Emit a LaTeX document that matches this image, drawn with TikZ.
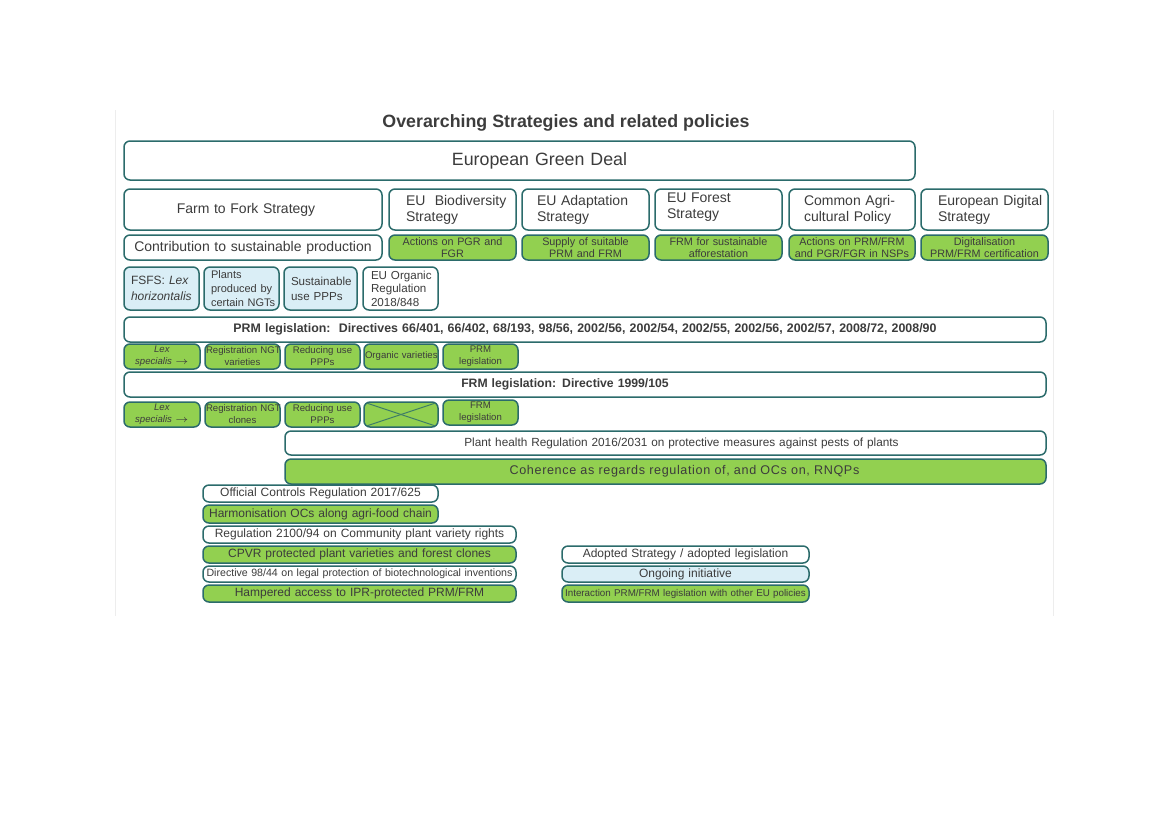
\documentclass[tikz,border=0pt]{standalone}
\usepackage{fontspec}
\setmainfont{Liberation Sans}
\definecolor{bord}{HTML}{2B6B6B}
\definecolor{grn}{HTML}{92D050}
\definecolor{lblue}{HTML}{DAEEF6}
\definecolor{txt}{HTML}{3C3C3C}
\definecolor{frame}{HTML}{EDEDED}
\newcommand{\fsz}[2]{\fontsize{#1}{#2}\selectfont}
% name, style, x1, y1, x2, y2, pad, text
\newcommand{\bx}[8]{%
  \pgfmathsetmacro{\bxcx}{(#3+#5)/2}%
  \pgfmathsetmacro{\bxcy}{(#4+#6)/2}%
  \pgfmathsetmacro{\bxw}{(#5-#3)*0.5}%
  \pgfmathsetmacro{\bxh}{(#6-#4)*0.5}%
  \pgfmathsetmacro{\bxtw}{(#5-#3)*0.5-2*#7}%
  \node[#2, minimum width=\bxw pt, minimum height=\bxh pt, text width=\bxtw pt, inner xsep=#7pt] (#1) at (\bxcx,\bxcy) {#8};}
\begin{document}
\begin{tikzpicture}[x=0.5pt,y=-0.5pt,
  box/.style={draw=bord, line width=0.75pt, rounded corners=3pt, inner ysep=0pt, align=center, text=txt, font=\fsz{6}{7}},
  wbox/.style={box, fill=white},
  gbox/.style={box, fill=grn},
  bbox/.style={box, fill=lblue},
  strat/.style={wbox, align=left, font=\fsz{7}{8}},
  small/.style={gbox, font=\fsz{5.4}{6}},
  tiny/.style={gbox, font=\fsz{4.8}{6}},
  crossline/.style={draw=bord!80!grn, line width=0.5pt}]
\useasboundingbox (0,0) rectangle (1169,827);
\draw[frame, line width=0.5pt] (115.5,110) -- (115.5,616);
\draw[frame, line width=0.5pt] (1053,110) -- (1053,616);

\node[text=txt, font=\bfseries\fsz{8.9}{10}] (title) at (566,123) {Overarching Strategies and related policies};

\bx{egd}{wbox, font=\fsz{8.9}{10}}{124}{141}{915}{180}{2}{\hspace*{20pt}European Green Deal}

\bx{f2f}{wbox, font=\fsz{7}{8}}{124}{189}{382}{230}{2}{Farm to Fork Strategy\hspace*{7pt}}
\bx{bio}{strat}{389}{189}{516}{230}{8.5}{\mbox{EU\ \ Biodiversity}\\\mbox{Strategy}}
\bx{adapt}{strat}{522}{189}{649}{230}{7.5}{\mbox{EU Adaptation}\\\mbox{Strategy}}
\bx{forest}{strat}{655}{189}{782}{230}{6}{\mbox{EU Forest}\\\mbox{Strategy}\vspace{2pt}}
\bx{cap}{strat}{789}{189}{915}{230}{7.5}{\mbox{Common Agri-}\\\mbox{cultural Policy}}
\bx{digital}{strat}{921}{189}{1048}{230}{8.5}{\mbox{European Digital}\\\mbox{Strategy}}

\bx{contrib}{wbox, font=\fsz{7}{8}}{124}{235}{382}{260}{1}{Contribution to sustainable production}
\bx{pgr}{small}{389}{235}{516}{260}{1}{Actions on PGR and\\FGR}
\bx{supply}{small}{522}{235}{649}{260}{1}{Supply of suitable\\PRM and FRM}
\bx{afforest}{small}{655}{235}{782}{260}{1}{FRM for sustainable\\afforestation}
\bx{nsp}{small}{789}{235}{915}{260}{1}{\mbox{Actions on PRM/FRM}\\\mbox{and PGR/FGR in NSPs}}
\bx{digi}{small}{921}{235}{1048}{260}{1}{Digitalisation\\\mbox{PRM/FRM certification}}

\bx{fsfs}{bbox, align=left, font=\fsz{6}{8}}{124}{267}{199}{310}{3.5}{\mbox{FSFS: \textit{Lex}}\\\mbox{\textit{horizontalis}}}
\bx{ngt}{bbox, align=left, font=\fsz{5.5}{6.8}}{204}{267}{279}{310}{3.5}{\mbox{Plants}\\\mbox{produced by}\\\mbox{certain NGTs}}
\bx{sppp}{bbox, align=left, font=\fsz{5.8}{7.5}}{284}{267}{357}{310}{3.5}{\mbox{Sustainable}\\\mbox{use PPPs}}
\bx{org}{wbox, align=left, font=\fsz{5.8}{6.8}}{363}{267}{438}{310}{4}{\mbox{EU Organic}\\\mbox{Regulation}\\\mbox{2018/848}}

\bx{prm}{wbox, font=\bfseries\fsz{6.2}{7}}{124}{317}{1046}{342}{1}{PRM legislation:\ \ Directives 66/401, 66/402, 68/193, 98/56, 2002/56, 2002/54, 2002/55, 2002/56, 2002/57, 2008/72, 2008/90}

\bx{lexa}{tiny}{124}{344}{200}{369}{1}{\textit{Lex}\\\mbox{\textit{specialis} $\rightarrow$}}
\bx{regv}{tiny}{205}{344}{280}{369}{0.5}{\mbox{Registration NGT}\\varieties}
\bx{redva}{tiny}{285}{344}{360}{369}{1}{Reducing use\\PPPs}
\bx{orgv}{tiny}{364}{344}{438}{369}{0.5}{\mbox{Organic varieties}}
\bx{prml}{tiny}{443}{344}{518}{369}{1}{PRM\\legislation}

\bx{frm}{wbox, font=\bfseries\fsz{6.1}{7}}{124}{372}{1046}{397}{1}{FRM legislation: Directive 1999/105\hspace*{20pt}}

\bx{lexb}{tiny}{124}{402}{200}{427}{1}{\textit{Lex}\\\mbox{\textit{specialis} $\rightarrow$}}
\bx{regc}{tiny}{205}{402}{280}{427}{0.5}{\mbox{Registration NGT}\\clones}
\bx{redvb}{tiny}{285}{402}{360}{427}{1}{Reducing use\\PPPs}
\bx{cross}{tiny}{364}{402}{438}{427}{1}{}
\bx{frml}{tiny}{443}{400}{518}{425}{1}{FRM\\legislation}
\draw[crossline] ([shift={(4,2)}]cross.north west) -- ([shift={(-4,-2)}]cross.south east);
\draw[crossline] ([shift={(-4,2)}]cross.north east) -- ([shift={(4,-2)}]cross.south west);

\bx{health}{wbox, font=\fsz{5.9}{7}}{285}{431}{1046}{455}{1}{\hspace*{16pt}Plant health Regulation 2016/2031 on protective measures against pests of plants}
\bx{coher}{gbox, font=\fsz{6.3}{8}\addfontfeature{LetterSpace=5}}{285}{459}{1046}{484}{1}{\hspace*{19pt}Coherence as regards regulation of, and OCs on, RNQPs}

\bx{ocr}{wbox}{203}{485}{438}{502}{1}{Official Controls Regulation 2017/625}
\bx{harm}{gbox}{203}{505}{438}{523}{1}{Harmonisation OCs along agri-food chain}
\bx{pvr}{wbox}{203}{526}{516}{543}{1}{Regulation 2100/94 on Community plant variety rights}
\bx{cpvr}{gbox}{203}{546}{516}{563}{1}{CPVR protected plant varieties and forest clones}
\bx{biotech}{wbox, font=\fsz{5.3}{6}}{203}{566}{516}{582}{0.5}{\mbox{Directive 98/44 on legal protection of biotechnological inventions}}
\bx{hamp}{gbox}{203}{585}{516}{602}{1}{Hampered access to IPR-protected PRM/FRM}

\bx{lega}{wbox}{562}{546}{809}{563}{1}{Adopted Strategy / adopted legislation}
\bx{legb}{bbox}{562}{566}{809}{582}{1}{Ongoing initiative}
\bx{legc}{gbox, font=\fsz{4.9}{6}}{562}{585}{809}{602}{0.5}{\mbox{Interaction PRM/FRM legislation with other EU policies}}
\end{tikzpicture}
\end{document}
